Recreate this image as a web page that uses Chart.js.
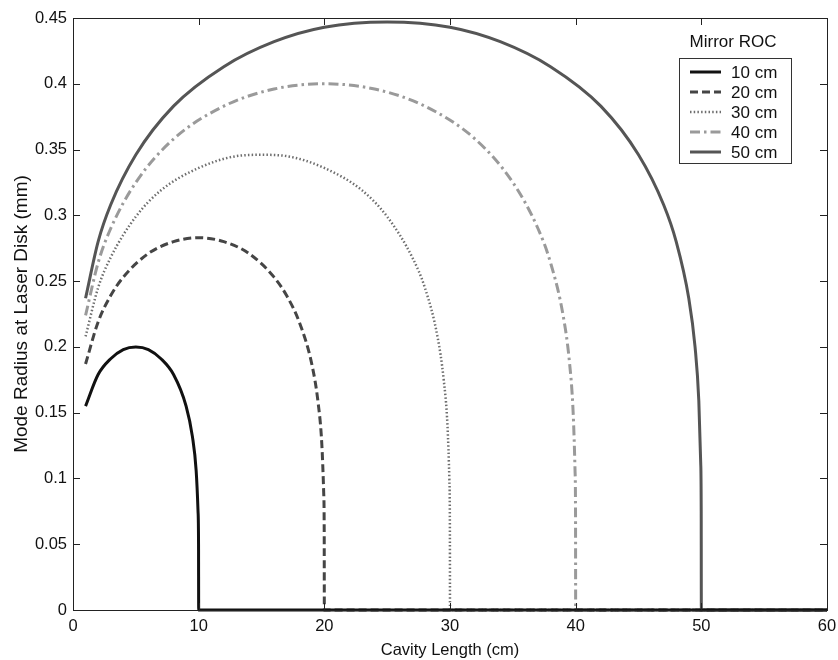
<!DOCTYPE html>
<html>
<head>
<meta charset="utf-8">
<script src="https://cdn.jsdelivr.net/npm/chart.js@4.4.0/dist/chart.umd.min.js"></script>
<style>
  html, body { margin: 0; padding: 0; background: #fff; }
  #wrap { width: 838px; height: 660px; }
</style>
</head>
<body>
<div id="wrap"><canvas id="c" width="838" height="660"></canvas></div>
<script>
// ---- data ----
const seriesLabels = ['10 cm', '20 cm', '30 cm', '40 cm', '50 cm'];

const L10 = [1, 2, 3, 4, 5, 6, 7, 8, 9, 9.5, 9.8, 9.95, 9.99, 10, 60];
const W10 = [0.155, 0.179, 0.191, 0.198, 0.200, 0.198, 0.191, 0.179, 0.155, 0.132, 0.106, 0.075, 0.050, 0, 0];

const L20 = [1, 2, 3, 4, 6, 8, 10, 12, 14, 16, 17, 18, 19, 19.5, 19.8, 19.95, 19.99, 20, 60];
const W20 = [0.187, 0.219, 0.239, 0.253, 0.271, 0.280, 0.283, 0.280, 0.271, 0.253, 0.239, 0.219, 0.187, 0.158, 0.126, 0.089, 0.060, 0, 0];

const L30 = [1, 2, 3, 5, 7, 10, 13, 15, 17, 20, 23, 25, 27, 28, 29, 29.5, 29.8, 29.95, 29.99, 30, 60];
const W30 = [0.208, 0.245, 0.268, 0.299, 0.319, 0.336, 0.345, 0.346, 0.345, 0.336, 0.319, 0.299, 0.268, 0.245, 0.208, 0.175, 0.140, 0.099, 0.066, 0, 0];

const L40 = [1, 2, 3, 5, 8, 12, 16, 20, 24, 28, 32, 35, 37, 38, 39, 39.5, 39.8, 39.95, 39.99, 40, 60];
const W40 = [0.224, 0.264, 0.290, 0.325, 0.358, 0.383, 0.396, 0.400, 0.396, 0.383, 0.358, 0.325, 0.290, 0.264, 0.224, 0.189, 0.150, 0.106, 0.071, 0, 0];

const L50 = [1, 2, 3, 5, 8, 12, 16, 20, 25, 30, 34, 38, 42, 45, 47, 48, 49, 49.5, 49.8, 49.95, 49.99, 50, 60];
const W50 = [0.237, 0.280, 0.308, 0.346, 0.383, 0.413, 0.432, 0.443, 0.447, 0.443, 0.432, 0.413, 0.383, 0.346, 0.308, 0.280, 0.237, 0.200, 0.159, 0.112, 0.075, 0, 0];

const xTicks = [0, 10, 20, 30, 40, 50, 60];
const xTickLabels = ['0', '10', '20', '30', '40', '50', '60'];
const yTicks = [0, 0.05, 0.1, 0.15, 0.2, 0.25, 0.3, 0.35, 0.4, 0.45];
const yTickLabels = ['0', '0.05', '0.1', '0.15', '0.2', '0.25', '0.3', '0.35', '0.4', '0.45'];

// ---- styles ----
const FONT = 'Arial, "Liberation Sans", Helvetica, sans-serif';
const styles = [
  { color: '#111111', width: 3,   dash: [] },
  { color: '#454545', width: 3,   dash: [8, 4] },
  { color: '#6e6e6e', width: 2.5, dash: [1.5, 2.2] },
  { color: '#9a9a9a', width: 3,   dash: [10, 4, 2.5, 4] },
  { color: '#555555', width: 3,   dash: [] }
];

const zip = (xs, ys) => xs.map((x, i) => ({ x: x, y: ys[i] }));
const seriesData = [zip(L10, W10), zip(L20, W20), zip(L30, W30), zip(L40, W40), zip(L50, W50)];

const datasets = seriesData.map((d, i) => ({
  label: seriesLabels[i],
  data: d,
  borderColor: styles[i].color,
  backgroundColor: styles[i].color,
  borderWidth: styles[i].width,
  borderDash: styles[i].dash,
  pointRadius: 0,
  fill: false,
  cubicInterpolationMode: 'monotone',
  clip: 4
}));

// box, inward ticks and legend in MATLAB style
const matlabFrame = {
  id: 'matlabFrame',
  afterDraw(chart) {
    const { ctx, chartArea: a, scales: { x, y } } = chart;
    ctx.save();
    ctx.strokeStyle = '#222';
    ctx.lineWidth = 1;
    ctx.setLineDash([]);
    ctx.strokeRect(Math.round(a.left) + 0.5, Math.round(a.top) + 0.5,
                   Math.round(a.right - a.left), Math.round(a.bottom - a.top));
    const tl = 7;
    ctx.beginPath();
    x.ticks.forEach(t => {
      const px = Math.round(x.getPixelForValue(t.value)) + 0.5;
      ctx.moveTo(px, a.bottom); ctx.lineTo(px, a.bottom - tl);
      ctx.moveTo(px, a.top); ctx.lineTo(px, a.top + tl);
    });
    y.ticks.forEach(t => {
      const py = Math.round(y.getPixelForValue(t.value)) + 0.5;
      ctx.moveTo(a.left, py); ctx.lineTo(a.left + tl, py);
      ctx.moveTo(a.right, py); ctx.lineTo(a.right - tl, py);
    });
    ctx.stroke();

    // legend
    const bx = 679, by = 58, bw = 112, bh = 105;
    ctx.fillStyle = '#fff';
    ctx.fillRect(bx, by, bw, bh);
    ctx.strokeStyle = '#333';
    ctx.strokeRect(bx + 0.5, by + 0.5, bw, bh);
    ctx.fillStyle = '#111';
    ctx.font = '17px ' + FONT;
    ctx.textAlign = 'center';
    ctx.textBaseline = 'middle';
    ctx.fillText('Mirror ROC', 733, 42);
    ctx.textAlign = 'left';
    chart.data.datasets.forEach((ds, i) => {
      const ry = 72 + i * 20;
      ctx.save();
      ctx.strokeStyle = ds.borderColor;
      ctx.lineWidth = ds.borderWidth;
      ctx.setLineDash(ds.borderDash);
      ctx.beginPath();
      ctx.moveTo(690, ry); ctx.lineTo(721, ry);
      ctx.stroke();
      ctx.restore();
      ctx.fillStyle = '#111';
      ctx.fillText(ds.label, 731, ry + 1);
    });
    ctx.restore();
  }
};

new Chart(document.getElementById('c'), {
  type: 'line',
  data: { datasets: datasets },
  options: {
    responsive: false,
    animation: false,
    layout: { padding: { left: 0, right: 11, top: 18, bottom: 0 } },
    plugins: { legend: { display: false }, tooltip: { enabled: false } },
    scales: {
      x: {
        type: 'linear', min: 0, max: 60,
        afterBuildTicks: s => { s.ticks = xTicks.map(v => ({ value: v })); },
        afterFit: s => { s.height = 50; s.paddingLeft = 0; s.paddingRight = 0; },
        grid: { display: false, drawTicks: false },
        border: { display: false },
        ticks: {
          padding: 7, color: '#111', font: { family: FONT, size: 16.5 },
          maxRotation: 0, autoSkip: false,
          callback: (v, i) => xTickLabels[i]
        },
        title: { display: true, text: 'Cavity Length (cm)', color: '#111',
                 font: { family: FONT, size: 16.5 }, padding: { top: 0, bottom: 0 } }
      },
      y: {
        type: 'linear', min: 0, max: 0.45,
        afterBuildTicks: s => { s.ticks = yTicks.map(v => ({ value: v })); },
        afterFit: s => { s.width = 73; s.paddingTop = 0; s.paddingBottom = 0; },
        grid: { display: false, drawTicks: false },
        border: { display: false },
        ticks: {
          padding: 6, color: '#111', font: { family: FONT, size: 16.5 },
          autoSkip: false,
          callback: (v, i) => yTickLabels[i]
        },
        title: { display: true, text: 'Mode Radius at Laser Disk (mm)', color: '#111',
                 font: { family: FONT, size: 19 }, padding: { top: 10, bottom: 0 } }
      }
    }
  },
  plugins: [matlabFrame]
});
</script>
</body>
</html>
